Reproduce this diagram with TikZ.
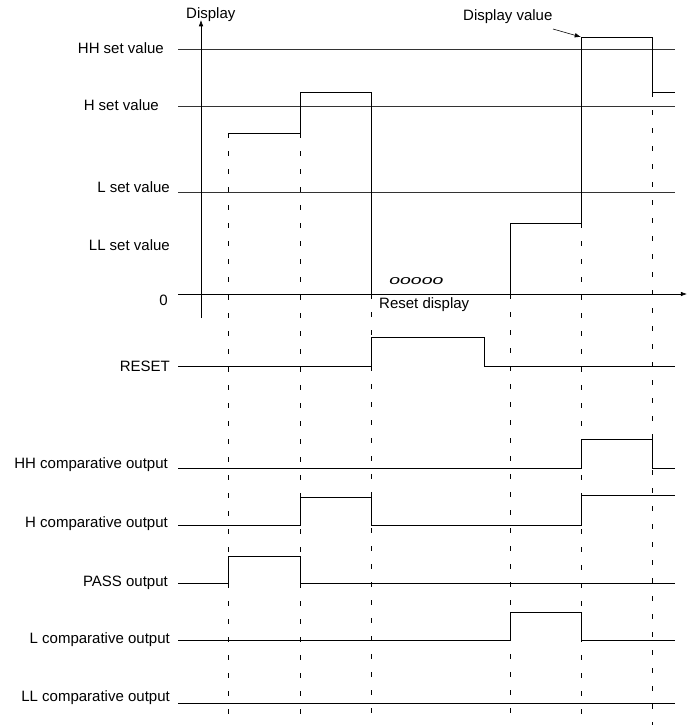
\documentclass[tikz,border=0pt]{standalone}
\usepackage{fontspec}
\setmainfont{Liberation Sans}
\usetikzlibrary{arrows.meta,positioning}
\definecolor{linegray}{HTML}{333333}
\tikzset{
  lbl/.style={anchor=east, inner sep=0pt, font=\fontsize{15}{17}\selectfont},
  note/.style={anchor=west, inner sep=0pt, font=\fontsize{15}{17}\selectfont},
  level/.style={draw=linegray, line width=0.6pt},
  signal/.style={draw=black, line width=0.6pt},
  guide/.style={draw=black, line width=0.6pt, dash pattern=on 5pt off 13pt},
  arrow/.style={-{Latex[length=2.2mm,width=1.6mm]}, line width=0.6pt}
}

\begin{document}
\begin{tikzpicture}[x=1pt, y=-1pt]
  \useasboundingbox (0,0) rectangle (687,725);

  % labels on the display axis
  \node[lbl] (hh) at (164,48) {HH set value};
  \node[lbl] (h) at (159,105) {H set value};
  \node[lbl] (l) at (170,187) {L set value};
  \node[lbl] (ll) at (170,245) {LL set value};
  \node[lbl] (zero) at (168,300) {0};
  \node[note] (disp) at (186,15) {Display};
  \node[note] (dval) at (463,17) {Display value};
  \node[note] (rdisp) at (379,305) {Reset display};
  \node[note, font=\fontsize{13}{15}\selectfont\itshape, xscale=1.5] (dots) at (389,281) {ooooo};

  % output labels
  \node[lbl] (reset) at (170,366) {RESET};
  \node[lbl] (hhout) at (168,465) {HH comparative output};
  \node[lbl] (hout) at (168,524) {H comparative output};
  \node[lbl] (pass) at (168,583) {PASS output};
  \node[lbl] (lout) at (170,640) {L comparative output};
  \node[lbl] (llout) at (170,698) {LL comparative output};

  % set value levels and axes
  \draw[level] (178,49) -- (675,49);
  \draw[level] (178,106) -- (675,106);
  \draw[level] (178,192) -- (675,192);
  \coordinate (xend) at (687,294);
  \coordinate (ytop) at (201,20);
  \draw[arrow] (178,294) -- (xend);
  \draw[arrow] (201,318) -- (ytop);

  % display value
  \draw[signal] (228,133) -- (300,133) -- (300,92) -- (371,92) -- (371,294);
  \draw[signal] (510,294) -- (510,223) -- (581,223) -- (581,37) -- (652,37) -- (652,92) -- (675,92);
  \coordinate (dv) at (581,37);
  \draw[arrow] (553,29) -- (dv);

  % guides
  \draw[guide] (228,133) -- (228,725);
  \draw[guide] (300,133) -- (300,725);
  \draw[guide] (371,294) -- (371,725);
  \draw[guide] (510,294) -- (510,725);
  \draw[guide] (581,223) -- (581,725);
  \draw[guide] (652,92) -- (652,725);

  % outputs
  \draw[signal] (178,366) -- (371,366) -- (371,337) -- (484,337) -- (484,366) -- (675,366);
  \draw[signal] (178,468) -- (581,468) -- (581,439) -- (652,439) -- (652,468) -- (675,468);
  \draw[signal] (178,525) -- (300,525) -- (300,497) -- (371,497) -- (371,525) -- (581,525) -- (581,495) -- (675,495);
  \draw[signal] (178,583) -- (228,583) -- (228,556) -- (300,556) -- (300,583) -- (675,583);
  \draw[signal] (178,640) -- (510,640) -- (510,612) -- (581,612) -- (581,640) -- (675,640);
  \draw[signal] (178,703) -- (675,703);
\end{tikzpicture}
\end{document}
